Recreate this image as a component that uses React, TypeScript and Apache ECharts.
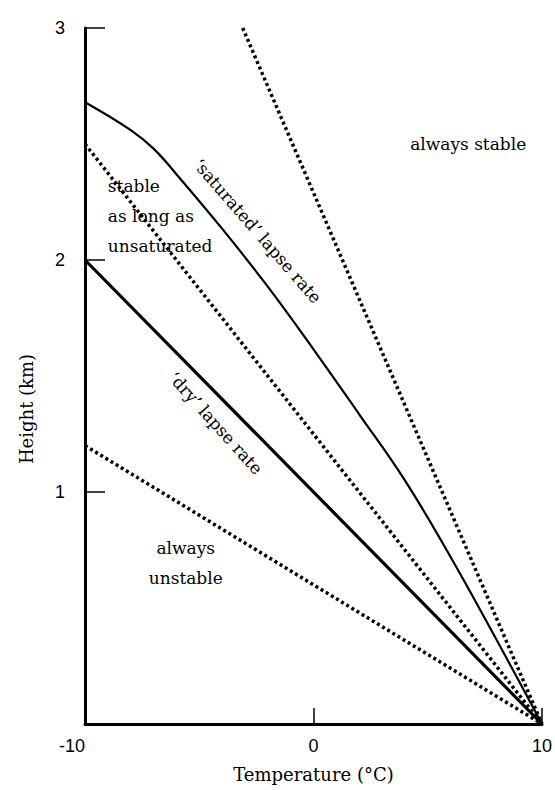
import React, { useEffect, useRef } from "react";
import * as echarts from "echarts";

// Temperature (°C) endpoints and heights (km) for the straight lines
const dryTemps = [-10, 10];
const dryHeights = [2, 0];
const unstableTemps = [-10, 10];
const unstableHeights = [1.2, 0];
const conditionalTemps = [-10, 10];
const conditionalHeights = [2.5, 0];
const stableTemps = [-3.1, 10];
const stableHeights = [3, 0];

// 'saturated' lapse rate curve
const satTemps = [-10, -8, -7, -6, -4, -2, 0, 2, 4, 6, 8, 10];
const satHeights = [2.68, 2.56, 2.48, 2.37, 2.135, 1.885, 1.615, 1.335, 1.05, 0.72, 0.365, 0];

// Axis ticks
const xTicks = [-10, 0, 10];
const yTicks = [0, 1, 2, 3];

// Annotations
const noteTexts = [
  "always stable",
  "stable\nas long as\nunsaturated",
  "\u2018saturated\u2019 lapse rate",
  "\u2018dry\u2019 lapse rate",
  "always\nunstable",
];
const noteTemps = [6.77, -9.0, -2.45, -4.28, -5.59];
const noteHeights = [2.5, 2.19, 2.125, 1.297, 0.694];
const noteRotations = [0, 0, -49, -48, 0];
const noteAligns = ["center", "left", "center", "center", "center"];

const pairs = (xs: number[], ys: number[]) => xs.map((x, i) => [x, ys[i]]);

const SERIF = "DejaVu Serif";
const SANS = "Liberation Sans";

export default function App() {
  const ref = useRef<HTMLDivElement>(null);
  useEffect(() => {
    if (!ref.current) return;
    const chart = echarts.init(ref.current, null, { renderer: "svg" });
    const dotted = { color: "#000", width: 3.5, type: [3, 3] as any, cap: "butt" as any };
    chart.setOption({
      animation: false,
      backgroundColor: "#fff",
      grid: { left: 85, right: 12, top: 28, bottom: 66, containLabel: false },
      xAxis: {
        type: "value",
        min: xTicks[0],
        max: xTicks[xTicks.length - 1],
        interval: 10,
        name: "Temperature (\u00B0C)",
        nameLocation: "middle",
        nameGap: 41,
        nameTextStyle: { fontFamily: SERIF, fontSize: 18, color: "#000" },
        axisLine: { onZero: false, lineStyle: { color: "#000", width: 3 } },
        axisTick: { inside: true, length: 16, lineStyle: { color: "#000", width: 1.5 } },
        axisLabel: {
          fontFamily: SANS,
          fontSize: 18,
          color: "#000",
          margin: 13,
          formatter: (v: number) => (v < 0 ? "{neg|" + v + "}" : String(v)),
          rich: { neg: { fontFamily: SANS, fontSize: 18, color: "#000", padding: [0, 26, 0, 0] } },
        },
        splitLine: { show: false },
      },
      yAxis: {
        type: "value",
        min: yTicks[0],
        max: yTicks[yTicks.length - 1],
        interval: 1,
        name: "Height (km)",
        nameLocation: "middle",
        nameRotate: 90,
        nameGap: 50,
        nameTextStyle: { fontFamily: SERIF, fontSize: 18, color: "#000", padding: [0, 66, 0, 0] },
        axisLine: { onZero: false, lineStyle: { color: "#000", width: 3 } },
        axisTick: { inside: true, length: 20, lineStyle: { color: "#000", width: 1.5 } },
        axisLabel: {
          fontFamily: SANS,
          fontSize: 18,
          color: "#000",
          margin: 20,
          verticalAlign: "middle",
          padding: [0, 0, 8, 0],
          formatter: (v: number) => (v === 0 ? "" : String(v)),
        },
        splitLine: { show: false },
      },
      series: [
        {
          type: "line",
          data: pairs(unstableTemps, unstableHeights),
          symbol: "none",
          lineStyle: dotted,
          clip: false,
        },
        {
          type: "line",
          data: pairs(conditionalTemps, conditionalHeights),
          symbol: "none",
          lineStyle: dotted,
          clip: false,
        },
        {
          type: "line",
          data: pairs(stableTemps, stableHeights),
          symbol: "none",
          lineStyle: dotted,
          clip: false,
        },
        {
          type: "line",
          data: pairs(dryTemps, dryHeights),
          symbol: "none",
          lineStyle: { color: "#000", width: 3.2 },
          clip: false,
        },
        {
          type: "line",
          data: pairs(satTemps, satHeights),
          symbol: "none",
          smooth: 0.4,
          lineStyle: { color: "#000", width: 2.2 },
          clip: false,
        },
        {
          type: "scatter",
          symbolSize: 0,
          silent: true,
          itemStyle: { opacity: 1 },
          data: noteTexts.map((t, i) => ({
            value: [noteTemps[i], noteHeights[i]],
            label: {
              show: true,
              position: "inside",
              formatter: t,
              rotate: noteRotations[i],
              align: noteAligns[i],
              verticalAlign: "middle",
              fontFamily: SERIF,
              fontSize: 17,
              lineHeight: 30,
              color: "#000",
              opacity: 1,
            },
          })),
        },
      ],
    });
    return () => chart.dispose();
  }, []);
  return (
    <div
      ref={ref}
      style={{ position: "fixed", left: 0, top: 0, width: 555, height: 790, background: "#fff" }}
    />
  );
}
